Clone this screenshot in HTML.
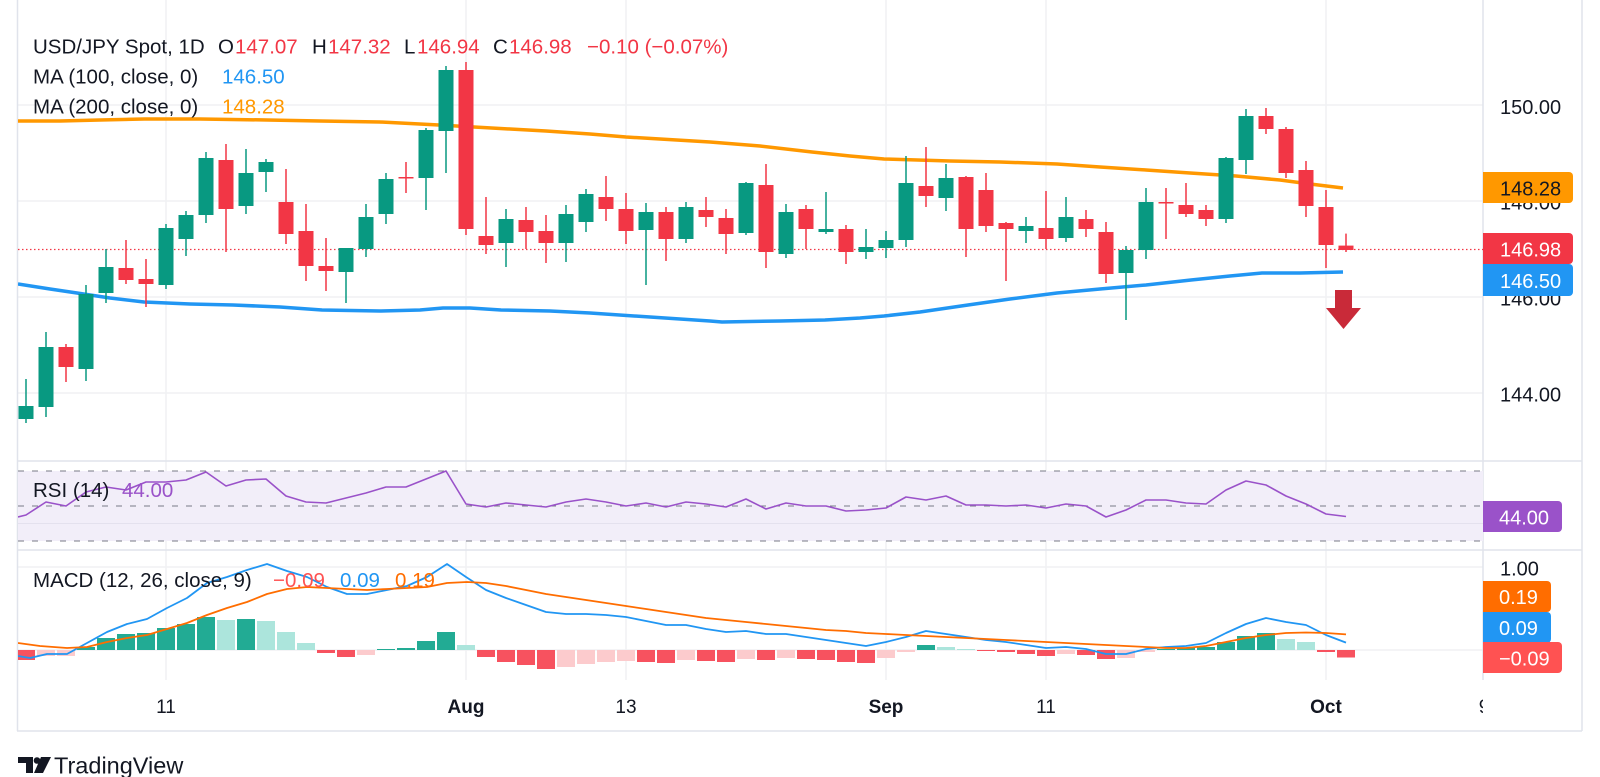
<!DOCTYPE html>
<html><head><meta charset="utf-8"><style>
html,body{margin:0;padding:0;background:#fff;}
svg{display:block;font-family:"Liberation Sans",Arial,sans-serif;}
</style></head><body>
<svg width="1600" height="777" viewBox="0 0 1600 777" xmlns="http://www.w3.org/2000/svg">
<defs>
<clipPath id="cm"><rect x="18" y="0" width="1465" height="460"/></clipPath>
<clipPath id="cr"><rect x="18" y="462" width="1465" height="87"/></clipPath>
<clipPath id="cd"><rect x="18" y="551" width="1465" height="129"/></clipPath>
<clipPath id="ct"><rect x="18" y="681" width="1465" height="50"/></clipPath>
</defs>
<rect width="1600" height="777" fill="#fff"/>

<!-- grid -->
<g stroke="#f0f1f4" stroke-width="1.5">
<line x1="166" y1="0" x2="166" y2="680"/><line x1="466" y1="0" x2="466" y2="680"/>
<line x1="626" y1="0" x2="626" y2="680"/><line x1="886" y1="0" x2="886" y2="680"/>
<line x1="1046" y1="0" x2="1046" y2="680"/><line x1="1326" y1="0" x2="1326" y2="680"/>
<line x1="18" y1="105" x2="1483" y2="105"/><line x1="18" y1="201" x2="1483" y2="201"/>
<line x1="18" y1="297" x2="1483" y2="297"/><line x1="18" y1="393" x2="1483" y2="393"/>
<line x1="18" y1="567" x2="1483" y2="567"/><line x1="18" y1="650" x2="1483" y2="650"/>
</g>

<!-- frame -->
<g stroke="#e0e3eb" stroke-width="1.5" fill="none">
<line x1="17.5" y1="0" x2="17.5" y2="731"/>
<line x1="1582" y1="0" x2="1582" y2="731"/>
<line x1="17" y1="731" x2="1582" y2="731"/>
<line x1="1483" y1="0" x2="1483" y2="680"/>
<line x1="18" y1="461" x2="1582" y2="461"/>
<line x1="18" y1="550" x2="1582" y2="550"/>
</g>

<!-- main pane -->
<g clip-path="url(#cm)">
<polyline fill="none" stroke="#ff9800" stroke-width="3.5" stroke-linejoin="round" points="18,121 60,121 100,120 144,119 200,119 267,120 320,121 380,122 439,125 474,127 510,129 546,131 590,134 626,137 660,139 710,142 760,146 812,152 850,156 884,159 950,161 1000,162 1057,164 1100,167 1146,170 1190,173 1236,176 1280,180 1310,184 1343,188"/>
<polyline fill="none" stroke="#2196f3" stroke-width="3.5" stroke-linejoin="round" points="18,284 50,289 77,293 110,298 144,302 190,304 233,305 280,307 322,310 380,311 420,310 443,308 470,308 501,310 550,311 590,313 650,317 710,321 722,322 780,321 825,320 860,318 884,316 920,312 968,305 1010,299 1057,293 1100,289 1146,285 1191,280 1230,276 1262,273 1300,273 1343,272"/>
<line x1="18" y1="249.5" x2="1483" y2="249.5" stroke="#f23645" stroke-width="1.3" stroke-dasharray="1.5 2.5"/>

<g fill="#089981">
<rect x="25.25" y="379" width="1.5" height="44"/><rect x="18.5" y="406" width="15" height="13"/>
<rect x="45.25" y="332" width="1.5" height="85"/><rect x="38.5" y="347" width="15" height="60"/>
<rect x="85.25" y="285" width="1.5" height="96"/><rect x="78.5" y="294" width="15" height="75"/>
<rect x="105.25" y="249" width="1.5" height="54"/><rect x="98.5" y="267" width="15" height="26"/>
<rect x="165.25" y="224" width="1.5" height="65"/><rect x="158.5" y="228" width="15" height="57"/>
<rect x="185.25" y="211" width="1.5" height="45"/><rect x="178.5" y="215" width="15" height="24"/>
<rect x="205.25" y="152" width="1.5" height="71"/><rect x="198.5" y="158" width="15" height="57"/>
<rect x="245.25" y="149" width="1.5" height="65"/><rect x="238.5" y="173" width="15" height="33"/>
<rect x="265.25" y="159" width="1.5" height="33"/><rect x="258.5" y="162" width="15" height="10"/>
<rect x="345.25" y="248" width="1.5" height="55"/><rect x="338.5" y="248" width="15" height="24"/>
<rect x="365.25" y="204" width="1.5" height="53"/><rect x="358.5" y="217" width="15" height="32"/>
<rect x="385.25" y="173" width="1.5" height="51"/><rect x="378.5" y="179" width="15" height="35"/>
<rect x="425.25" y="128" width="1.5" height="82"/><rect x="418.5" y="130" width="15" height="48"/>
<rect x="445.25" y="66" width="1.5" height="107"/><rect x="438.5" y="70" width="15" height="61"/>
<rect x="505.25" y="209" width="1.5" height="58"/><rect x="498.5" y="219" width="15" height="24"/>
<rect x="565.25" y="205" width="1.5" height="57"/><rect x="558.5" y="214" width="15" height="29"/>
<rect x="585.25" y="189" width="1.5" height="43"/><rect x="578.5" y="194" width="15" height="28"/>
<rect x="645.25" y="203" width="1.5" height="82"/><rect x="638.5" y="212" width="15" height="18"/>
<rect x="685.25" y="202" width="1.5" height="41"/><rect x="678.5" y="207" width="15" height="32"/>
<rect x="745.25" y="182" width="1.5" height="53"/><rect x="738.5" y="183" width="15" height="50"/>
<rect x="785.25" y="204" width="1.5" height="54"/><rect x="778.5" y="212" width="15" height="42"/>
<rect x="825.25" y="192" width="1.5" height="42"/><rect x="818.5" y="229" width="15" height="3"/>
<rect x="865.25" y="229" width="1.5" height="30"/><rect x="858.5" y="247" width="15" height="5"/>
<rect x="885.25" y="231" width="1.5" height="27"/><rect x="878.5" y="240" width="15" height="8"/>
<rect x="905.25" y="156" width="1.5" height="91"/><rect x="898.5" y="183" width="15" height="57"/>
<rect x="945.25" y="164" width="1.5" height="47"/><rect x="938.5" y="178" width="15" height="20"/>
<rect x="1025.25" y="217" width="1.5" height="26"/><rect x="1018.5" y="226" width="15" height="5"/>
<rect x="1065.25" y="197" width="1.5" height="45"/><rect x="1058.5" y="217" width="15" height="21"/>
<rect x="1125.25" y="246" width="1.5" height="74"/><rect x="1118.5" y="250" width="15" height="23"/>
<rect x="1145.25" y="188" width="1.5" height="71"/><rect x="1138.5" y="202" width="15" height="48"/>
<rect x="1225.25" y="157" width="1.5" height="66"/><rect x="1218.5" y="158" width="15" height="61"/>
<rect x="1245.25" y="109" width="1.5" height="65"/><rect x="1238.5" y="116" width="15" height="44"/>
</g>
<g fill="#f23645">
<rect x="65.25" y="344" width="1.5" height="38"/><rect x="58.5" y="347" width="15" height="20"/>
<rect x="125.25" y="240" width="1.5" height="44"/><rect x="118.5" y="268" width="15" height="12"/>
<rect x="145.25" y="259" width="1.5" height="48"/><rect x="138.5" y="279" width="15" height="5"/>
<rect x="225.25" y="144" width="1.5" height="108"/><rect x="218.5" y="160" width="15" height="49"/>
<rect x="285.25" y="169" width="1.5" height="75"/><rect x="278.5" y="202" width="15" height="32"/>
<rect x="305.25" y="204" width="1.5" height="77"/><rect x="298.5" y="231" width="15" height="35"/>
<rect x="325.25" y="238" width="1.5" height="53"/><rect x="318.5" y="266" width="15" height="5"/>
<rect x="405.25" y="162" width="1.5" height="31"/><rect x="398.5" y="177" width="15" height="1.5"/>
<rect x="465.25" y="62" width="1.5" height="173"/><rect x="458.5" y="70" width="15" height="159"/>
<rect x="485.25" y="197" width="1.5" height="57"/><rect x="478.5" y="236" width="15" height="9"/>
<rect x="525.25" y="207" width="1.5" height="42"/><rect x="518.5" y="220" width="15" height="12"/>
<rect x="545.25" y="215" width="1.5" height="48"/><rect x="538.5" y="231" width="15" height="12"/>
<rect x="605.25" y="176" width="1.5" height="45"/><rect x="598.5" y="197" width="15" height="12"/>
<rect x="625.25" y="193" width="1.5" height="51"/><rect x="618.5" y="209" width="15" height="22"/>
<rect x="665.25" y="207" width="1.5" height="54"/><rect x="658.5" y="212" width="15" height="27"/>
<rect x="705.25" y="197" width="1.5" height="30"/><rect x="698.5" y="210" width="15" height="7"/>
<rect x="725.25" y="209" width="1.5" height="45"/><rect x="718.5" y="218" width="15" height="16"/>
<rect x="765.25" y="164" width="1.5" height="104"/><rect x="758.5" y="185" width="15" height="67"/>
<rect x="805.25" y="205" width="1.5" height="44"/><rect x="798.5" y="209" width="15" height="20"/>
<rect x="845.25" y="225" width="1.5" height="39"/><rect x="838.5" y="229" width="15" height="23"/>
<rect x="925.25" y="147" width="1.5" height="60"/><rect x="918.5" y="186" width="15" height="10"/>
<rect x="965.25" y="176" width="1.5" height="81"/><rect x="958.5" y="177" width="15" height="52"/>
<rect x="985.25" y="173" width="1.5" height="59"/><rect x="978.5" y="190" width="15" height="36"/>
<rect x="1005.25" y="222" width="1.5" height="59"/><rect x="998.5" y="223" width="15" height="6"/>
<rect x="1045.25" y="191" width="1.5" height="58"/><rect x="1038.5" y="228" width="15" height="11"/>
<rect x="1085.25" y="210" width="1.5" height="27"/><rect x="1078.5" y="219" width="15" height="10"/>
<rect x="1105.25" y="222" width="1.5" height="61"/><rect x="1098.5" y="232" width="15" height="42"/>
<rect x="1165.25" y="188" width="1.5" height="51"/><rect x="1158.5" y="202" width="15" height="1.5"/>
<rect x="1185.25" y="183" width="1.5" height="34"/><rect x="1178.5" y="205" width="15" height="9"/>
<rect x="1205.25" y="205" width="1.5" height="21"/><rect x="1198.5" y="210" width="15" height="9"/>
<rect x="1265.25" y="108" width="1.5" height="26"/><rect x="1258.5" y="116" width="15" height="13"/>
<rect x="1285.25" y="127" width="1.5" height="51"/><rect x="1278.5" y="129" width="15" height="44"/>
<rect x="1305.25" y="161" width="1.5" height="56"/><rect x="1298.5" y="170" width="15" height="36"/>
<rect x="1325.25" y="190" width="1.5" height="78"/><rect x="1318.5" y="207" width="15" height="38"/>
<rect x="1345.25" y="233.6" width="1.5" height="18.4"/><rect x="1338.5" y="245.6" width="15" height="4.4"/>
</g>
<!-- arrow -->
<rect x="1335" y="290" width="17" height="19" fill="#c92a39"/>
<polygon points="1326,308 1361,308 1343.5,329" fill="#c92a39"/>
</g>

<!-- RSI pane -->
<g clip-path="url(#cr)">
<rect x="18" y="471" width="1465" height="70" fill="#f2eef9"/>
<line x1="18" y1="523.5" x2="1483" y2="523.5" stroke="#e4e1ee" stroke-width="1"/>
<g stroke="#787b86" stroke-width="1" stroke-dasharray="6 8">
<line x1="18" y1="471" x2="1483" y2="471"/>
<line x1="18" y1="506" x2="1483" y2="506"/>
<line x1="18" y1="541" x2="1483" y2="541"/>
</g>
<polyline fill="none" stroke="#9a52c9" stroke-width="1.6" stroke-linejoin="round" points="18,517 26,515 46,502 66,506 86,492 106,487 126,490 146,482 166,482 186,480 206,472 226,486 246,480 266,479 286,496 306,502 326,503 346,498 366,493 386,487 406,487 426,479 446,471 466,504 486,507 506,503 526,505 546,507 566,502 586,499 606,502 626,506 646,503 666,507 686,502 706,504 726,507 746,499 766,509 786,503 806,506 826,506 846,511 866,510 886,508 906,497 926,500 946,496 966,505 986,505 1006,506 1026,505 1046,508 1066,504 1086,506 1106,517 1126,510 1146,500 1166,500 1186,503 1206,504 1226,490 1246,481 1266,485 1286,496 1306,504 1326,514 1346,516.5"/>
</g>

<!-- MACD pane -->
<g clip-path="url(#cd)">
<g fill="#22ab94">
<rect x="77" y="647" width="18" height="3"/><rect x="97" y="638" width="18" height="12"/>
<rect x="117" y="634" width="18" height="16"/><rect x="137" y="633" width="18" height="17"/>
<rect x="157" y="628" width="18" height="22"/><rect x="177" y="624" width="18" height="26"/>
<rect x="197" y="617" width="18" height="33"/><rect x="237" y="619" width="18" height="31"/>
<rect x="377" y="649" width="18" height="1"/><rect x="397" y="648" width="18" height="2"/>
<rect x="417" y="641" width="18" height="9"/><rect x="437" y="632" width="18" height="18"/>
<rect x="917" y="645" width="18" height="5"/>
<rect x="1157" y="649" width="18" height="1"/><rect x="1177" y="648" width="18" height="2"/>
<rect x="1197" y="647" width="18" height="3"/><rect x="1217" y="642" width="18" height="8"/>
<rect x="1237" y="636" width="18" height="14"/><rect x="1257" y="633" width="18" height="17"/>
</g>
<g fill="#ace5dc">
<rect x="217" y="620" width="18" height="30"/><rect x="257" y="621" width="18" height="29"/>
<rect x="277" y="632" width="18" height="18"/><rect x="297" y="643" width="18" height="7"/>
<rect x="457" y="645" width="18" height="5"/><rect x="937" y="647" width="18" height="3"/>
<rect x="957" y="649" width="18" height="1"/>
<rect x="1277" y="639" width="18" height="11"/><rect x="1297" y="642" width="18" height="8"/>
</g>
<g fill="#f7525f">
<rect x="17" y="650" width="18" height="10"/><rect x="317" y="650" width="18" height="3"/>
<rect x="337" y="650" width="18" height="7"/><rect x="477" y="650" width="18" height="7"/>
<rect x="497" y="650" width="18" height="12"/><rect x="517" y="650" width="18" height="15"/>
<rect x="537" y="650" width="18" height="19"/><rect x="637" y="650" width="18" height="12"/>
<rect x="657" y="650" width="18" height="13"/><rect x="697" y="650" width="18" height="11"/>
<rect x="717" y="650" width="18" height="12"/><rect x="757" y="650" width="18" height="10"/>
<rect x="797" y="650" width="18" height="9"/><rect x="817" y="650" width="18" height="10"/>
<rect x="837" y="650" width="18" height="12"/><rect x="857" y="650" width="18" height="13"/>
<rect x="977" y="650" width="18" height="1"/><rect x="997" y="650" width="18" height="2"/>
<rect x="1017" y="650" width="18" height="4"/><rect x="1037" y="650" width="18" height="6"/>
<rect x="1077" y="650" width="18" height="5"/><rect x="1097" y="650" width="18" height="9"/>
<rect x="1317" y="650" width="18" height="2"/><rect x="1337" y="650" width="18" height="7.5"/>
</g>
<g fill="#fccbcd">
<rect x="37" y="650" width="18" height="6"/><rect x="57" y="650" width="18" height="6"/>
<rect x="357" y="650" width="18" height="5"/><rect x="557" y="650" width="18" height="17"/>
<rect x="577" y="650" width="18" height="14"/><rect x="597" y="650" width="18" height="12"/>
<rect x="617" y="650" width="18" height="11"/><rect x="677" y="650" width="18" height="10"/>
<rect x="737" y="650" width="18" height="9"/><rect x="777" y="650" width="18" height="8"/>
<rect x="877" y="650" width="18" height="8"/><rect x="897" y="650" width="18" height="2"/>
<rect x="1057" y="650" width="18" height="4"/><rect x="1117" y="650" width="18" height="8"/>
<rect x="1137" y="650" width="18" height="2"/>
</g>
<polyline fill="none" stroke="#2196f3" stroke-width="1.8" stroke-linejoin="round" points="18,656 30,658 47,654 67,654 87,643 107,632 127,624 147,619 167,608 187,598 207,583 227,577 247,570 267,564 287,571 307,577 327,587 347,594 367,594 387,590 407,586 427,577 447,564 466,577 486,590 506,598 526,605 546,612 566,614 586,614 606,615 626,617 646,621 666,625 686,625 706,629 726,632 746,631 766,634 786,634 806,637 826,640 846,643 866,646 886,642 906,637 926,631 946,634 966,637 986,640 1006,642 1026,645 1046,648 1066,647 1086,649 1106,654 1126,654 1146,649 1166,647 1186,646 1206,643 1226,633 1246,624 1266,618 1286,622 1306,625 1326,635 1346,642.6"/>
<polyline fill="none" stroke="#ff6d00" stroke-width="1.8" stroke-linejoin="round" points="18,643 40,646 67,648 87,647 107,642 127,638 147,635 167,629 187,623 207,615 227,608 247,602 267,594 287,589 307,587 327,588 347,589 367,590 387,589 407,588 427,587 447,583 467,582 486,583 506,586 526,590 546,594 566,597 586,600 606,603 626,606 646,609 666,612 686,615 706,618 726,620 746,622 766,624 786,626 806,628 826,630 846,631 866,633 886,634 906,635 926,636 946,637 966,638 986,639 1006,640 1026,641 1046,642 1066,643 1086,644 1106,645 1126,646 1146,647 1166,648 1186,648 1206,646 1226,642 1246,638 1266,635 1286,633 1306,632.5 1326,633 1346,634.4"/>
</g>

<!-- legends -->
<g font-size="20.5" fill="#131722">
<text x="33" y="53.5">USD/JPY Spot, 1D</text>
<text x="218" y="53.5">O</text><text x="235" y="53.5" fill="#f23645">147.07</text>
<text x="312" y="53.5">H</text><text x="328" y="53.5" fill="#f23645">147.32</text>
<text x="404" y="53.5">L</text><text x="417" y="53.5" fill="#f23645">146.94</text>
<text x="493" y="53.5">C</text><text x="509" y="53.5" fill="#f23645">146.98</text>
<text x="587" y="53.5" fill="#f23645">−0.10 (−0.07%)</text>
<text x="33" y="83.5">MA (100, close, 0)</text><text x="222" y="83.5" fill="#2196f3">146.50</text>
<text x="33" y="113.5">MA (200, close, 0)</text><text x="222" y="113.5" fill="#ff9800">148.28</text>
<text x="33" y="497">RSI (14)</text><text x="122" y="497" fill="#9a52c9">44.00</text>
<text x="33" y="587">MACD (12, 26, close, 9)</text>
<text x="273" y="587" fill="#ff5252">−0.09</text>
<text x="340" y="587" fill="#2196f3">0.09</text>
<text x="395" y="587" fill="#ff6d00">0.19</text>
</g>

<!-- price axis -->
<g font-size="20" fill="#131722">
<text x="1500" y="114">150.00</text>
<text x="1500" y="209.5">148.00</text>
<text x="1500" y="305.5">146.00</text>
<text x="1500" y="401.5">144.00</text>
<text x="1500" y="575.5">1.00</text>
</g>
<g font-size="20">
<path d="M1483,172 H1569 a4,4 0 0 1 4,4 V199 a4,4 0 0 1 -4,4 H1483 Z" fill="#ff9800"/>
<text x="1500" y="195.5" fill="#131722">148.28</text>
<path d="M1483,233 H1569 a4,4 0 0 1 4,4 V260 a4,4 0 0 1 -4,4 H1483 Z" fill="#f23645"/>
<text x="1500" y="256.5" fill="#fff">146.98</text>
<path d="M1483,264 H1569 a4,4 0 0 1 4,4 V292 a4,4 0 0 1 -4,4 H1483 Z" fill="#2196f3"/>
<text x="1500" y="288" fill="#fff">146.50</text>
<path d="M1483,501 H1558 a4,4 0 0 1 4,4 V528 a4,4 0 0 1 -4,4 H1483 Z" fill="#9a52c9"/>
<text x="1499" y="524.5" fill="#fff">44.00</text>
<path d="M1483,581 H1547 a4,4 0 0 1 4,4 V608 a4,4 0 0 1 -4,4 H1483 Z" fill="#ff6d00"/>
<text x="1499" y="604" fill="#fff">0.19</text>
<path d="M1483,612 H1547 a4,4 0 0 1 4,4 V639 a4,4 0 0 1 -4,4 H1483 Z" fill="#2196f3"/>
<text x="1499" y="635" fill="#fff">0.09</text>
<path d="M1483,642 H1558 a4,4 0 0 1 4,4 V669 a4,4 0 0 1 -4,4 H1483 Z" fill="#ff5252"/>
<text x="1499" y="665.5" fill="#fff">−0.09</text>
</g>

<!-- time axis -->
<g font-size="19" fill="#131722" text-anchor="middle" clip-path="url(#ct)">
<text x="166" y="713">11</text>
<text x="466" y="713" font-weight="bold">Aug</text>
<text x="626" y="713">13</text>
<text x="886" y="713" font-weight="bold">Sep</text>
<text x="1046" y="713">11</text>
<text x="1326" y="713" font-weight="bold">Oct</text>
<text x="1484" y="713">9</text>
</g>

<!-- logo -->
<g fill="#131722">
<rect x="18" y="757" width="15" height="6"/>
<rect x="26" y="757" width="7" height="16"/>
<circle cx="37" cy="760.5" r="3.3"/>
<polygon points="41,757 51,757 43,773 34,773"/>
<text x="54" y="773.5" font-size="23.5">TradingView</text>
</g>
</svg>
</body></html>
